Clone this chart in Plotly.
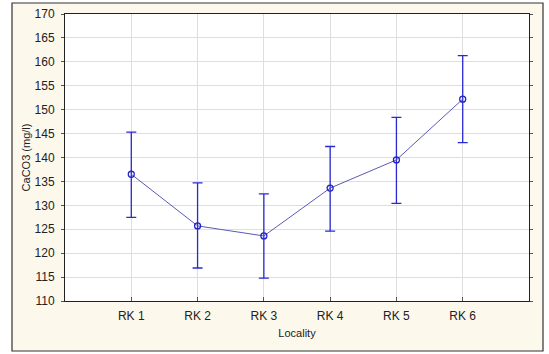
import plotly.graph_objects as go

categories = ["RK 1", "RK 2", "RK 3", "RK 4", "RK 5", "RK 6"]
means = [136.5, 125.7, 123.6, 133.6, 139.5, 152.2]
upper = [145.3, 134.7, 132.4, 142.3, 148.4, 161.3]
lower = [127.5, 116.9, 114.8, 124.6, 130.4, 143.1]
y_ticks = [110, 115, 120, 125, 130, 135, 140, 145, 150, 155, 160, 165, 170]

xpos = list(range(1, len(categories) + 1))
err_plus = [u - m for u, m in zip(upper, means)]
err_minus = [m - l for m, l in zip(means, lower)]

fig = go.Figure()
fig.add_trace(go.Scatter(
    x=xpos, y=means, mode="lines+markers",
    line=dict(color="#5a5ab4", width=1),
    marker=dict(symbol="circle-open", size=6, color="#2424c8", line=dict(width=1.3)),
    error_y=dict(type="data", symmetric=False, array=err_plus, arrayminus=err_minus,
                 color="#2a2ad2", thickness=1.3, width=5),
    showlegend=False,
    cliponaxis=False,
))

font = dict(family="Liberation Sans, Arial, sans-serif", size=12, color="#222222")
fig.update_layout(
    width=549, height=354,
    margin=dict(l=65, r=20, t=14, b=53, autoexpand=False),
    paper_bgcolor="white", plot_bgcolor="white",
    font=font,
    shapes=[
        dict(type="rect", xref="paper", yref="paper", layer="below",
             x0=-53 / 464, x1=1 + 14 / 464, y0=-50 / 287, y1=1 + 11 / 287,
             fillcolor="#fdf8ec", line=dict(color="#333333", width=1.2)),
        dict(type="rect", xref="paper", yref="paper", layer="below",
             x0=0, x1=1, y0=0, y1=1, fillcolor="white", line=dict(width=0)),
    ],
    xaxis=dict(range=[0, 7], tickvals=xpos, ticktext=categories, automargin=False,
               showgrid=True, gridcolor="#dedede", gridwidth=1,
               showline=True, linecolor="#222222", linewidth=1, mirror=True,
               ticks="inside", ticklen=4, tickcolor="#555555", zeroline=False,
               tickfont=dict(size=12), ticklabelstandoff=4,
               title=dict(text="Locality", standoff=6, font=dict(size=11))),
    yaxis=dict(range=[110, 170], tickvals=y_ticks, automargin=False,
               showgrid=True, gridcolor="#dedede", gridwidth=1,
               showline=True, linecolor="#222222", linewidth=1, mirror="ticks",
               ticks="outside", ticklen=3, tickcolor="#555555", zeroline=False,
               tickfont=dict(size=12), ticklabelstandoff=4,
               title=dict(text="CaCO3 (mg/l)", standoff=1, font=dict(size=11))),
)
fig.write_html("out.html", config={"displayModeBar": False},
               post_script="document.body.style.margin='0';")
